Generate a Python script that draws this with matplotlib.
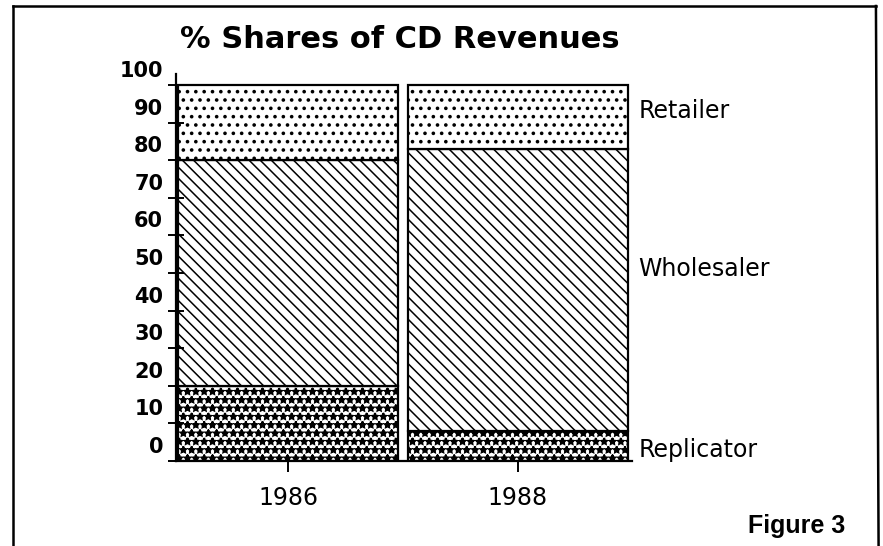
import matplotlib
matplotlib.use("Agg")
import matplotlib.pyplot as plt
from matplotlib.lines import Line2D
from matplotlib.transforms import ScaledTranslation

# share of CD revenues (%) by year, stacked bottom to top
years = ["1986", "1988"]
segments = ["Replicator", "Wholesaler", "Retailer"]
replicator = [20, 8]
wholesaler = [60, 75]
retailer = [20, 17]
y_ticks = list(range(0, 101, 10))

plt.rcParams['font.family'] = ['DejaVu Sans']
plt.rcParams['hatch.color'] = 'black'

fig = plt.figure(figsize=(8.83, 5.46), dpi=100)
ax = fig.add_axes([0.1993, 0.1557, 0.5164, 0.709])

x = [0, 1]
series = [replicator, wholesaler, retailer]
hatches = ['**', '\\\\\\', '..']
hatch_lw = [1.4, 1.1, 1.4]
bottom = [0, 0]
for vals, h, hlw in zip(series, hatches, hatch_lw):
    bars = ax.bar(x, vals, width=0.96, bottom=bottom, color='white',
                  edgecolor='black', linewidth=1.6, hatch=h)
    for b in bars:
        b.set_hatch_linewidth(hlw)
    bottom = [b0 + v for b0, v in zip(bottom, vals)]

ax.set_xlim(-0.487, 1.496)
ax.set_ylim(0, 103)

for s in ['top', 'right']:
    ax.spines[s].set_visible(False)
ax.spines['left'].set_linewidth(1.6)
ax.spines['bottom'].set_linewidth(1.6)

ax.set_xticks(x)
ax.set_xticklabels(years, fontsize=17)
ax.tick_params(axis='x', direction='out', length=8, width=1.4, pad=10)

# y labels sit a little above their ticks
ax.set_yticks(y_ticks)
ax.set_yticklabels([])
ax.tick_params(axis='y', direction='inout', length=11, width=1.4)
lift = ScaledTranslation(0, 14 / 100, fig.dpi_scale_trans)
for t in y_ticks:
    ax.text(-0.028, t, str(t), transform=ax.get_yaxis_transform() + lift,
            ha='right', va='center', fontsize=15, fontweight='bold')

# segment names beside the 1988 bar
label_y = [3, 51, 93]
for name, yy in zip(segments, label_y):
    ax.text(1.525, yy, name, ha='left', va='center', fontsize=17)

fig.text(0.453, 0.928, "% Shares of CD Revenues", ha='center', va='center',
         fontsize=22, fontweight='bold')
fig.text(0.957, 0.024, "Figure 3", ha='right', va='baseline',
         fontsize=18, fontweight='bold', family='Liberation Sans')

# page frame
fig.add_artist(Line2D([0.0147, 0.0147], [0.0, 0.989], color='black', lw=1.8))
fig.add_artist(Line2D([0.0147, 0.992], [0.989, 0.989], color='black', lw=1.8))
fig.add_artist(Line2D([0.992, 0.995], [0.989, 0.0], color='black', lw=1.8))

fig.savefig("out.png", dpi=100)
